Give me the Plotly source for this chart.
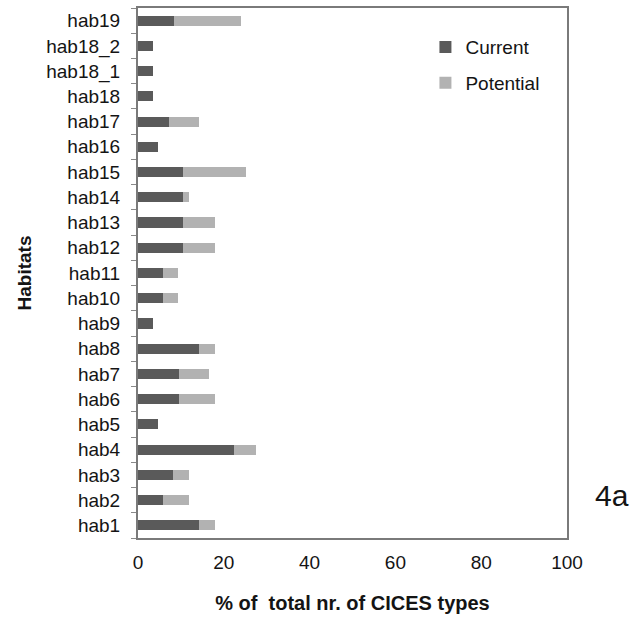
import plotly.graph_objects as go

# Habitat categories, bottom to top
habitats = ["hab1", "hab2", "hab3", "hab4", "hab5", "hab6", "hab7", "hab8", "hab9",
            "hab10", "hab11", "hab12", "hab13", "hab14", "hab15", "hab16", "hab17",
            "hab18", "hab18_1", "hab18_2", "hab19"]

# % of total nr. of CICES types currently provided
current = [14.3, 5.9, 8.2, 22.4, 4.7, 9.5, 9.5, 14.3, 3.6,
           5.9, 5.9, 10.6, 10.6, 10.6, 10.6, 4.7, 7.2,
           3.6, 3.6, 3.6, 8.4]

# Additional % potentially provided (stacked on top of current)
potential = [3.6, 6.1, 3.8, 5.0, 0.0, 8.4, 7.1, 3.6, 0.0,
             3.5, 3.5, 7.3, 7.3, 1.4, 14.5, 0.0, 7.1,
             0.0, 0.0, 0.0, 15.5]

x_ticks = [0, 20, 40, 60, 80, 100]

font_family = "Liberation Sans, Arial, sans-serif"
text_color = "#141414"

fig = go.Figure()
fig.add_trace(go.Bar(y=habitats, x=current, orientation="h", name="Current",
                     legendgroup="cur",
                     marker=dict(color="#5a5a5a", line=dict(width=0))))
fig.add_trace(go.Bar(y=habitats, x=potential, orientation="h", name="Potential",
                     legendgroup="pot",
                     marker=dict(color="#b2b2b2", line=dict(width=0))))

fig.update_layout(
    barmode="stack",
    bargap=0.6,
    width=632, height=620,
    margin=dict(l=138, r=65, t=6, b=82),
    paper_bgcolor="white",
    plot_bgcolor="white",
    font=dict(family=font_family, size=19, color=text_color),
    legend=dict(x=0.67, y=0.962, xanchor="left", yanchor="top",
                traceorder="grouped", tracegroupgap=8,
                font=dict(size=19, color=text_color), bgcolor="rgba(0,0,0,0)",
                itemwidth=30),
    showlegend=True,
)

fig.update_xaxes(
    range=[0, 100], tickvals=x_ticks, ticktext=[str(v) for v in x_ticks],
    showgrid=False, zeroline=False,
    showline=True, linecolor="#7a7a7a", linewidth=2, mirror=True,
    ticks="", tickfont=dict(size=19), ticklabelstandoff=6,
    title=dict(text="<b>% of  total nr. of CICES types</b>", font=dict(size=20), standoff=24),
)
fig.update_yaxes(
    categoryorder="array", categoryarray=habitats,
    showgrid=False, zeroline=False,
    showline=True, linecolor="#7a7a7a", linewidth=2, mirror=True,
    ticks="outside", tickson="boundaries", ticklen=5, tickcolor="#8a8a8a",
    tickfont=dict(size=19), ticklabelstandoff=12,
    title=dict(text="<b>Habitats</b>", font=dict(size=19), standoff=10),
)

fig.add_annotation(text="4a", xref="paper", yref="paper", x=1.105, y=0.08,
                   xanchor="center", yanchor="middle", showarrow=False,
                   font=dict(size=30, color=text_color))

fig.write_html("out.html")
